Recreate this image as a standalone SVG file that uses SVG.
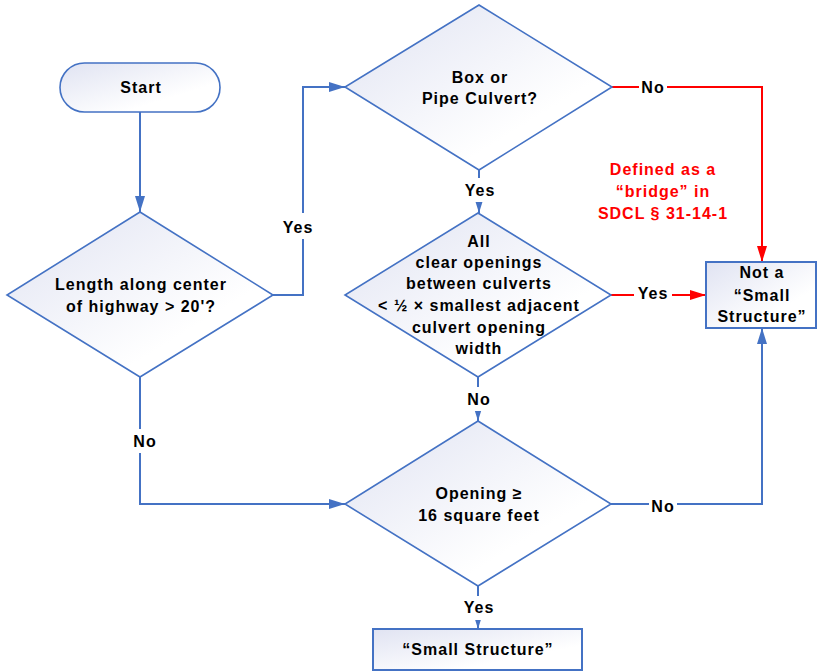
<svg xmlns="http://www.w3.org/2000/svg" width="818" height="672" viewBox="0 0 818 672">
<defs>
<linearGradient id="fill" x1="0" y1="0" x2="1" y2="1">
<stop offset="0" stop-color="#E0E3F2"/>
<stop offset="0.7" stop-color="#FFFFFF"/>
</linearGradient>
<marker id="ab" viewBox="0 0 16 10" refX="16" refY="5" markerWidth="16" markerHeight="10" markerUnits="userSpaceOnUse" orient="auto">
<path d="M0,0 L16,5 L0,10 Z" fill="#4472C4"/>
</marker>
<marker id="ar" viewBox="0 0 16 10" refX="16" refY="5" markerWidth="16" markerHeight="10" markerUnits="userSpaceOnUse" orient="auto">
<path d="M0,0 L16,5 L0,10 Z" fill="#FF0000"/>
</marker>
</defs>
<style>
.node{fill:url(#fill);stroke:#4472C4;stroke-width:1.6}
.box{fill:url(#fill);stroke:#4472C4;stroke-width:2}
.t{font-family:"Liberation Sans",Arial,sans-serif;font-weight:bold;font-size:16px;letter-spacing:1px;text-anchor:middle;fill:#000}
.red{fill:#FF0000}
.cb{fill:none;stroke:#4472C4;stroke-width:2}
.cr{fill:none;stroke:#FF0000;stroke-width:2}
.bg{fill:#FFFFFF}
</style>
<rect width="818" height="672" fill="#FFFFFF"/>
<g id="connectors">
<path class="cb" d="M140,112 V212" marker-end="url(#ab)"/>
<path class="cb" d="M273,295 H303 V87 H345" marker-end="url(#ab)"/>
<path class="cb" d="M140,377 V504 H345" marker-end="url(#ab)"/>
<path class="cb" d="M479,170 V213" marker-end="url(#ab)"/>
<path class="cr" d="M612,87 H762 V262" marker-end="url(#ar)"/>
<path class="cr" d="M611,295 H706" marker-end="url(#ar)"/>
<path class="cb" d="M478,377 V421" marker-end="url(#ab)"/>
<path class="cb" d="M611,504 H762 V328" marker-end="url(#ab)"/>
<path class="cb" d="M478,586 V629" marker-end="url(#ab)"/>
<rect class="bg" x="284" y="213" width="38" height="26"/>
<text class="t" x="298" y="233">Yes</text>
<rect class="bg" x="131" y="429" width="28" height="24"/>
<text class="t" x="145" y="447">No</text>
<rect class="bg" x="461" y="178" width="38" height="24"/>
<text class="t" x="480" y="196">Yes</text>
<rect class="bg" x="639" y="78" width="28" height="20"/>
<text class="t" x="653" y="93">No</text>
<rect class="bg" x="634" y="284" width="38" height="20"/>
<text class="t" x="653" y="299">Yes</text>
<rect class="bg" x="465" y="387" width="28" height="24"/>
<text class="t" x="479" y="405">No</text>
<rect class="bg" x="649" y="496" width="28" height="20"/>
<text class="t" x="663" y="512">No</text>
<rect class="bg" x="460" y="596" width="38" height="24"/>
<text class="t" x="479" y="613">Yes</text>
<text class="t red" x="663" y="175">Defined as a</text>
<text class="t red" x="663" y="197">“bridge” in</text>
<text class="t red" x="663" y="219">SDCL § 31-14-1</text>
</g>
<g id="start">
<rect class="node" x="60" y="63" width="160" height="49" rx="24.5" ry="24.5"/>
<text class="t" x="141" y="93">Start</text>
</g>
<g id="length">
<polygon class="node" points="140,212 273,295 140,377 7,295"/>
<text class="t" x="141" y="290">Length along center</text>
<text class="t" x="141" y="312">of highway &gt; 20'?</text>
</g>
<g id="culvert">
<polygon class="node" points="479,5 612,87 479,170 345,87"/>
<text class="t" x="480" y="83">Box or</text>
<text class="t" x="480" y="104">Pipe Culvert?</text>
</g>
<g id="openings">
<polygon class="node" points="478,213 611,295 478,377 345,295"/>
<text class="t" x="479" y="247">All</text>
<text class="t" x="479" y="268">clear openings</text>
<text class="t" x="479" y="289">between culverts</text>
<text class="t" x="479" y="311">&lt; ½ × smallest adjacent</text>
<text class="t" x="479" y="333">culvert opening</text>
<text class="t" x="479" y="354">width</text>
</g>
<g id="area">
<polygon class="node" points="478,421 611,504 478,586 345,504"/>
<text class="t" x="479" y="499">Opening ≥</text>
<text class="t" x="479" y="521">16 square feet</text>
</g>
<g id="not-small">
<rect class="box" x="706" y="262" width="110" height="66"/>
<text class="t" x="762" y="278">Not a</text>
<text class="t" x="762" y="301">“Small</text>
<text class="t" x="762" y="322">Structure”</text>
</g>
<g id="small">
<rect class="box" x="373" y="629" width="209" height="41"/>
<text class="t" x="478" y="655">“Small Structure”</text>
</g>
</svg>
